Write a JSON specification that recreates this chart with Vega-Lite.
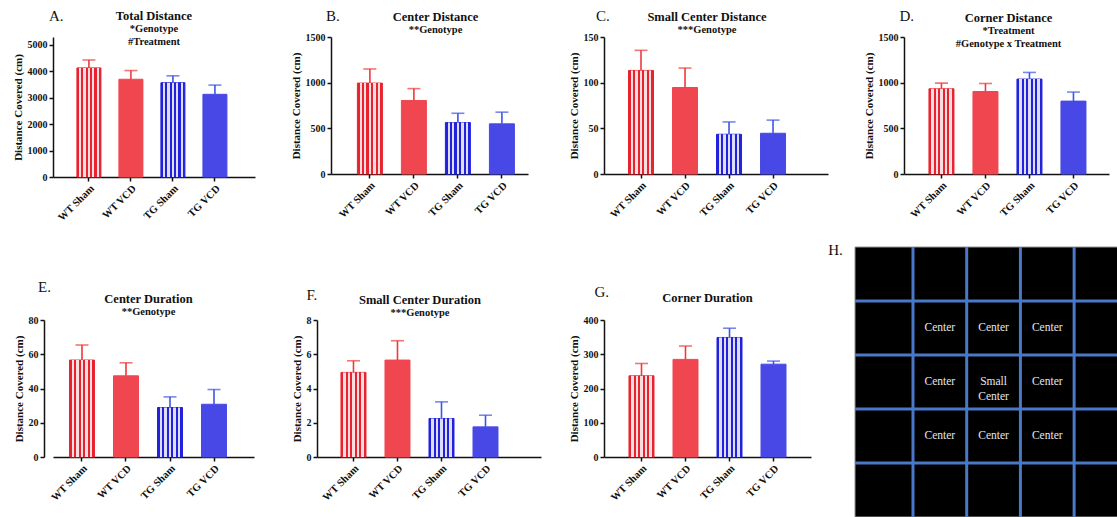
{
"$schema": "https://vega.github.io/schema/vega-lite/v6.json",
"background": "white",
"padding": {"left": 12, "top": 9, "right": 0, "bottom": 0},
"datasets": {
"bars": [
{"panel":"A","group":"WT Sham","mean":4130,"upper":4430},
{"panel":"A","group":"WT VCD","mean":3700,"upper":4030},
{"panel":"A","group":"TG Sham","mean":3570,"upper":3830},
{"panel":"A","group":"TG VCD","mean":3130,"upper":3480},
{"panel":"B","group":"WT Sham","mean":995,"upper":1150},
{"panel":"B","group":"WT VCD","mean":805,"upper":935},
{"panel":"B","group":"TG Sham","mean":563,"upper":665},
{"panel":"B","group":"TG VCD","mean":549,"upper":677},
{"panel":"C","group":"WT Sham","mean":113.4,"upper":135.4},
{"panel":"C","group":"WT VCD","mean":94.7,"upper":116},
{"panel":"C","group":"TG Sham","mean":43.5,"upper":57},
{"panel":"C","group":"TG VCD","mean":44.6,"upper":59},
{"panel":"D","group":"WT Sham","mean":933,"upper":995},
{"panel":"D","group":"WT VCD","mean":903,"upper":991},
{"panel":"D","group":"TG Sham","mean":1039,"upper":1112},
{"panel":"D","group":"TG VCD","mean":798,"upper":897},
{"panel":"E","group":"WT Sham","mean":56.6,"upper":65.4},
{"panel":"E","group":"WT VCD","mean":47.4,"upper":55.0},
{"panel":"E","group":"TG Sham","mean":28.9,"upper":35.1},
{"panel":"E","group":"TG VCD","mean":30.8,"upper":39.4},
{"panel":"F","group":"WT Sham","mean":4.94,"upper":5.62},
{"panel":"F","group":"WT VCD","mean":5.66,"upper":6.79},
{"panel":"F","group":"TG Sham","mean":2.25,"upper":3.22},
{"panel":"F","group":"TG VCD","mean":1.76,"upper":2.44},
{"panel":"G","group":"WT Sham","mean":237,"upper":273},
{"panel":"G","group":"WT VCD","mean":285,"upper":324},
{"panel":"G","group":"TG Sham","mean":349,"upper":376},
{"panel":"G","group":"TG VCD","mean":271,"upper":280}
],
"hsquare": [{"x": -0.08, "x2": 4.817, "y": 0, "y2": 5}],
"hvlines": [{"x": 1, "y": 0, "y2": 5}, {"x": 2, "y": 0, "y2": 5}, {"x": 3, "y": 0, "y2": 5}, {"x": 4, "y": 0, "y2": 5}],
"hhlines": [{"y": 1, "x": -0.08, "x2": 4.817}, {"y": 2, "x": -0.08, "x2": 4.817}, {"y": 3, "x": -0.08, "x2": 4.817}, {"y": 4, "x": -0.08, "x2": 4.817}],
"hlabels": [
{"cx": 1.5, "cy": 1.5, "label": "Center"},
{"cx": 2.5, "cy": 1.5, "label": "Center"},
{"cx": 3.5, "cy": 1.5, "label": "Center"},
{"cx": 1.5, "cy": 2.5, "label": "Center"},
{"cx": 2.5, "cy": 2.5, "label": "Small\nCenter"},
{"cx": 3.5, "cy": 2.5, "label": "Center"},
{"cx": 1.5, "cy": 3.5, "label": "Center"},
{"cx": 2.5, "cy": 3.5, "label": "Center"},
{"cx": 3.5, "cy": 3.5, "label": "Center"}
]
},
"spacing": 19,
"vconcat": [
{"bounds": "flush", "spacing": 76, "hconcat": [
{"width": 202, "height": 140,
 "title": {"text": "Total Distance", "subtitle": ["*Genotype", "#Treatment"], "offset": -38},
 "data": {"name": "bars"}, "transform": [{"filter": "datum.panel == 'A'"}],
 "encoding": {"x": {"field": "group", "type": "nominal", "sort": ["WT Sham","WT VCD","TG Sham","TG VCD"], "scale": {"paddingInner": 0.4286, "paddingOuter": 0.619, "align": 0.46}, "axis": {"title": null}}},
 "layer": [
  {"mark": {"type": "bar", "strokeWidth": 1}, "encoding": {"y": {"field": "mean", "type": "quantitative", "scale": {"domain": [0, 5300], "nice": false}, "axis": {"values": [0,1000,2000,3000,4000,5000], "format": "d", "title": "Distance Covered (cm)"}}, "fill": {"field": "group", "type": "nominal", "scale": {"domain": ["WT Sham","WT VCD","TG Sham","TG VCD"], "range": ["#e8232f","#ef4650","#2222dd","#4848e6"]}, "legend": null}, "stroke": {"field": "group", "type": "nominal", "scale": {"domain": ["WT Sham","WT VCD","TG Sham","TG VCD"], "range": ["#e8232f","#ef4650","#2222dd","#4848e6"]}, "legend": null}}},
  {"transform": [{"filter": "indexof(datum.group, 'Sham') >= 0"}], "mark": {"type": "bar", "strokeWidth": 0, "fill": {"gradient": "linear", "x1": 0, "y1": 0, "x2": 1, "y2": 0, "stops": [{"offset": 0, "color": "rgba(255,255,255,0)"},{"offset": 0.0909, "color": "rgba(255,255,255,0)"},{"offset": 0.0909, "color": "rgba(255,255,255,0.85)"},{"offset": 0.1818, "color": "rgba(255,255,255,0.85)"},{"offset": 0.1818, "color": "rgba(255,255,255,0)"},{"offset": 0.2727, "color": "rgba(255,255,255,0)"},{"offset": 0.2727, "color": "rgba(255,255,255,0.85)"},{"offset": 0.3636, "color": "rgba(255,255,255,0.85)"},{"offset": 0.3636, "color": "rgba(255,255,255,0)"},{"offset": 0.4545, "color": "rgba(255,255,255,0)"},{"offset": 0.4545, "color": "rgba(255,255,255,0.85)"},{"offset": 0.5455, "color": "rgba(255,255,255,0.85)"},{"offset": 0.5455, "color": "rgba(255,255,255,0)"},{"offset": 0.6364, "color": "rgba(255,255,255,0)"},{"offset": 0.6364, "color": "rgba(255,255,255,0.85)"},{"offset": 0.7273, "color": "rgba(255,255,255,0.85)"},{"offset": 0.7273, "color": "rgba(255,255,255,0)"},{"offset": 0.8182, "color": "rgba(255,255,255,0)"},{"offset": 0.8182, "color": "rgba(255,255,255,0.85)"},{"offset": 0.9091, "color": "rgba(255,255,255,0.85)"},{"offset": 0.9091, "color": "rgba(255,255,255,0)"},{"offset": 1, "color": "rgba(255,255,255,0)"}]}}, "encoding": {"y": {"field": "mean", "type": "quantitative", "axis": {"values": [0,1000,2000,3000,4000,5000], "format": "d", "title": "Distance Covered (cm)"}}}},
  {"mark": {"type": "rule", "strokeWidth": 1.6}, "encoding": {"y": {"field": "mean", "type": "quantitative", "axis": {"values": [0,1000,2000,3000,4000,5000], "format": "d", "title": "Distance Covered (cm)"}}, "y2": {"field": "upper"}, "color": {"field": "group", "type": "nominal", "scale": {"domain": ["WT Sham","WT VCD","TG Sham","TG VCD"], "range": ["#ee3a3a","#ee3a3a","#3d55e6","#3d55e6"]}, "legend": null}}},
  {"mark": {"type": "tick", "thickness": 1.6, "size": 13}, "encoding": {"y": {"field": "upper", "type": "quantitative", "axis": {"values": [0,1000,2000,3000,4000,5000], "format": "d", "title": "Distance Covered (cm)"}}, "color": {"field": "group", "type": "nominal", "scale": {"domain": ["WT Sham","WT VCD","TG Sham","TG VCD"], "range": ["#ee3a3a","#ee3a3a","#3d55e6","#3d55e6"]}, "legend": null}}},
  {"data": {"values": [{"letter": "A.", "panel": "A"}]}, "mark": {"type": "text", "align": "left", "baseline": "alphabetic", "font": "Liberation Serif", "fontSize": 15, "color": "#111", "dx": -40, "dy": -16}, "encoding": {"x": {"datum": "WT Sham"}, "y": {"datum": 5300, "axis": {"values": [0,1000,2000,3000,4000,5000], "format": "d", "title": "Distance Covered (cm)"}}, "text": {"field": "letter"}}}
 ]},
{"width": 197, "height": 137,
 "title": {"text": "Center Distance", "subtitle": ["**Genotype"], "offset": -26, "dx": 6},
 "data": {"name": "bars"}, "transform": [{"filter": "datum.panel == 'B'"}],
 "encoding": {"x": {"field": "group", "type": "nominal", "sort": ["WT Sham","WT VCD","TG Sham","TG VCD"], "scale": {"paddingInner": 0.432, "paddingOuter": 0.4545, "align": 0.66}, "axis": {"title": null}}},
 "layer": [
  {"mark": {"type": "bar", "strokeWidth": 1}, "encoding": {"y": {"field": "mean", "type": "quantitative", "scale": {"domain": [0, 1500], "nice": false}, "axis": {"values": [0,500,1000,1500], "format": "d", "title": "Distance Covered (cm)"}}, "fill": {"field": "group", "type": "nominal", "scale": {"domain": ["WT Sham","WT VCD","TG Sham","TG VCD"], "range": ["#e8232f","#ef4650","#2222dd","#4848e6"]}, "legend": null}, "stroke": {"field": "group", "type": "nominal", "scale": {"domain": ["WT Sham","WT VCD","TG Sham","TG VCD"], "range": ["#e8232f","#ef4650","#2222dd","#4848e6"]}, "legend": null}}},
  {"transform": [{"filter": "indexof(datum.group, 'Sham') >= 0"}], "mark": {"type": "bar", "strokeWidth": 0, "fill": {"gradient": "linear", "x1": 0, "y1": 0, "x2": 1, "y2": 0, "stops": [{"offset": 0, "color": "rgba(255,255,255,0)"},{"offset": 0.0909, "color": "rgba(255,255,255,0)"},{"offset": 0.0909, "color": "rgba(255,255,255,0.85)"},{"offset": 0.1818, "color": "rgba(255,255,255,0.85)"},{"offset": 0.1818, "color": "rgba(255,255,255,0)"},{"offset": 0.2727, "color": "rgba(255,255,255,0)"},{"offset": 0.2727, "color": "rgba(255,255,255,0.85)"},{"offset": 0.3636, "color": "rgba(255,255,255,0.85)"},{"offset": 0.3636, "color": "rgba(255,255,255,0)"},{"offset": 0.4545, "color": "rgba(255,255,255,0)"},{"offset": 0.4545, "color": "rgba(255,255,255,0.85)"},{"offset": 0.5455, "color": "rgba(255,255,255,0.85)"},{"offset": 0.5455, "color": "rgba(255,255,255,0)"},{"offset": 0.6364, "color": "rgba(255,255,255,0)"},{"offset": 0.6364, "color": "rgba(255,255,255,0.85)"},{"offset": 0.7273, "color": "rgba(255,255,255,0.85)"},{"offset": 0.7273, "color": "rgba(255,255,255,0)"},{"offset": 0.8182, "color": "rgba(255,255,255,0)"},{"offset": 0.8182, "color": "rgba(255,255,255,0.85)"},{"offset": 0.9091, "color": "rgba(255,255,255,0.85)"},{"offset": 0.9091, "color": "rgba(255,255,255,0)"},{"offset": 1, "color": "rgba(255,255,255,0)"}]}}, "encoding": {"y": {"field": "mean", "type": "quantitative", "axis": {"values": [0,500,1000,1500], "format": "d", "title": "Distance Covered (cm)"}}}},
  {"mark": {"type": "rule", "strokeWidth": 1.6}, "encoding": {"y": {"field": "mean", "type": "quantitative", "axis": {"values": [0,500,1000,1500], "format": "d", "title": "Distance Covered (cm)"}}, "y2": {"field": "upper"}, "color": {"field": "group", "type": "nominal", "scale": {"domain": ["WT Sham","WT VCD","TG Sham","TG VCD"], "range": ["#ee3a3a","#ee3a3a","#3d55e6","#3d55e6"]}, "legend": null}}},
  {"mark": {"type": "tick", "thickness": 1.6, "size": 13}, "encoding": {"y": {"field": "upper", "type": "quantitative", "axis": {"values": [0,500,1000,1500], "format": "d", "title": "Distance Covered (cm)"}}, "color": {"field": "group", "type": "nominal", "scale": {"domain": ["WT Sham","WT VCD","TG Sham","TG VCD"], "range": ["#ee3a3a","#ee3a3a","#3d55e6","#3d55e6"]}, "legend": null}}},
  {"data": {"values": [{"letter": "B.", "panel": "B"}]}, "mark": {"type": "text", "align": "left", "baseline": "alphabetic", "font": "Liberation Serif", "fontSize": 15, "color": "#111", "dx": -44, "dy": -16}, "encoding": {"x": {"datum": "WT Sham"}, "y": {"datum": 1500, "axis": {"values": [0,500,1000,1500], "format": "d", "title": "Distance Covered (cm)"}}, "text": {"field": "letter"}}}
 ]},
{"width": 224, "height": 137,
 "title": {"text": "Small Center Distance", "subtitle": ["***Genotype"], "offset": -26, "dx": -9},
 "data": {"name": "bars"}, "transform": [{"filter": "datum.panel == 'C'"}],
 "encoding": {"x": {"field": "group", "type": "nominal", "sort": ["WT Sham","WT VCD","TG Sham","TG VCD"], "scale": {"paddingInner": 0.432, "paddingOuter": 0.761, "align": 0.366}, "axis": {"title": null}}},
 "layer": [
  {"mark": {"type": "bar", "strokeWidth": 1}, "encoding": {"y": {"field": "mean", "type": "quantitative", "scale": {"domain": [0, 150], "nice": false}, "axis": {"values": [0,50,100,150], "format": "d", "title": "Distance Covered (cm)"}}, "fill": {"field": "group", "type": "nominal", "scale": {"domain": ["WT Sham","WT VCD","TG Sham","TG VCD"], "range": ["#e8232f","#ef4650","#2222dd","#4848e6"]}, "legend": null}, "stroke": {"field": "group", "type": "nominal", "scale": {"domain": ["WT Sham","WT VCD","TG Sham","TG VCD"], "range": ["#e8232f","#ef4650","#2222dd","#4848e6"]}, "legend": null}}},
  {"transform": [{"filter": "indexof(datum.group, 'Sham') >= 0"}], "mark": {"type": "bar", "strokeWidth": 0, "fill": {"gradient": "linear", "x1": 0, "y1": 0, "x2": 1, "y2": 0, "stops": [{"offset": 0, "color": "rgba(255,255,255,0)"},{"offset": 0.0909, "color": "rgba(255,255,255,0)"},{"offset": 0.0909, "color": "rgba(255,255,255,0.85)"},{"offset": 0.1818, "color": "rgba(255,255,255,0.85)"},{"offset": 0.1818, "color": "rgba(255,255,255,0)"},{"offset": 0.2727, "color": "rgba(255,255,255,0)"},{"offset": 0.2727, "color": "rgba(255,255,255,0.85)"},{"offset": 0.3636, "color": "rgba(255,255,255,0.85)"},{"offset": 0.3636, "color": "rgba(255,255,255,0)"},{"offset": 0.4545, "color": "rgba(255,255,255,0)"},{"offset": 0.4545, "color": "rgba(255,255,255,0.85)"},{"offset": 0.5455, "color": "rgba(255,255,255,0.85)"},{"offset": 0.5455, "color": "rgba(255,255,255,0)"},{"offset": 0.6364, "color": "rgba(255,255,255,0)"},{"offset": 0.6364, "color": "rgba(255,255,255,0.85)"},{"offset": 0.7273, "color": "rgba(255,255,255,0.85)"},{"offset": 0.7273, "color": "rgba(255,255,255,0)"},{"offset": 0.8182, "color": "rgba(255,255,255,0)"},{"offset": 0.8182, "color": "rgba(255,255,255,0.85)"},{"offset": 0.9091, "color": "rgba(255,255,255,0.85)"},{"offset": 0.9091, "color": "rgba(255,255,255,0)"},{"offset": 1, "color": "rgba(255,255,255,0)"}]}}, "encoding": {"y": {"field": "mean", "type": "quantitative", "axis": {"values": [0,50,100,150], "format": "d", "title": "Distance Covered (cm)"}}}},
  {"mark": {"type": "rule", "strokeWidth": 1.6}, "encoding": {"y": {"field": "mean", "type": "quantitative", "axis": {"values": [0,50,100,150], "format": "d", "title": "Distance Covered (cm)"}}, "y2": {"field": "upper"}, "color": {"field": "group", "type": "nominal", "scale": {"domain": ["WT Sham","WT VCD","TG Sham","TG VCD"], "range": ["#ee3a3a","#ee3a3a","#3d55e6","#3d55e6"]}, "legend": null}}},
  {"mark": {"type": "tick", "thickness": 1.6, "size": 13}, "encoding": {"y": {"field": "upper", "type": "quantitative", "axis": {"values": [0,50,100,150], "format": "d", "title": "Distance Covered (cm)"}}, "color": {"field": "group", "type": "nominal", "scale": {"domain": ["WT Sham","WT VCD","TG Sham","TG VCD"], "range": ["#ee3a3a","#ee3a3a","#3d55e6","#3d55e6"]}, "legend": null}}},
  {"data": {"values": [{"letter": "C.", "panel": "C"}]}, "mark": {"type": "text", "align": "left", "baseline": "alphabetic", "font": "Liberation Serif", "fontSize": 15, "color": "#111", "dx": -45, "dy": -16}, "encoding": {"x": {"datum": "WT Sham"}, "y": {"datum": 150, "axis": {"values": [0,50,100,150], "format": "d", "title": "Distance Covered (cm)"}}, "text": {"field": "letter"}}}
 ]},
{"width": 205, "height": 137,
 "title": {"text": "Corner Distance", "subtitle": ["*Treatment", "#Genotype x Treatment"], "offset": -40, "dx": 2},
 "data": {"name": "bars"}, "transform": [{"filter": "datum.panel == 'D'"}],
 "encoding": {"x": {"field": "group", "type": "nominal", "sort": ["WT Sham","WT VCD","TG Sham","TG VCD"], "scale": {"paddingInner": 0.432, "paddingOuter": 0.5455, "align": 0.52}, "axis": {"title": null}}},
 "layer": [
  {"mark": {"type": "bar", "strokeWidth": 1}, "encoding": {"y": {"field": "mean", "type": "quantitative", "scale": {"domain": [0, 1500], "nice": false}, "axis": {"values": [0,500,1000,1500], "format": "d", "title": "Distance Covered (cm)"}}, "fill": {"field": "group", "type": "nominal", "scale": {"domain": ["WT Sham","WT VCD","TG Sham","TG VCD"], "range": ["#e8232f","#ef4650","#2222dd","#4848e6"]}, "legend": null}, "stroke": {"field": "group", "type": "nominal", "scale": {"domain": ["WT Sham","WT VCD","TG Sham","TG VCD"], "range": ["#e8232f","#ef4650","#2222dd","#4848e6"]}, "legend": null}}},
  {"transform": [{"filter": "indexof(datum.group, 'Sham') >= 0"}], "mark": {"type": "bar", "strokeWidth": 0, "fill": {"gradient": "linear", "x1": 0, "y1": 0, "x2": 1, "y2": 0, "stops": [{"offset": 0, "color": "rgba(255,255,255,0)"},{"offset": 0.0909, "color": "rgba(255,255,255,0)"},{"offset": 0.0909, "color": "rgba(255,255,255,0.85)"},{"offset": 0.1818, "color": "rgba(255,255,255,0.85)"},{"offset": 0.1818, "color": "rgba(255,255,255,0)"},{"offset": 0.2727, "color": "rgba(255,255,255,0)"},{"offset": 0.2727, "color": "rgba(255,255,255,0.85)"},{"offset": 0.3636, "color": "rgba(255,255,255,0.85)"},{"offset": 0.3636, "color": "rgba(255,255,255,0)"},{"offset": 0.4545, "color": "rgba(255,255,255,0)"},{"offset": 0.4545, "color": "rgba(255,255,255,0.85)"},{"offset": 0.5455, "color": "rgba(255,255,255,0.85)"},{"offset": 0.5455, "color": "rgba(255,255,255,0)"},{"offset": 0.6364, "color": "rgba(255,255,255,0)"},{"offset": 0.6364, "color": "rgba(255,255,255,0.85)"},{"offset": 0.7273, "color": "rgba(255,255,255,0.85)"},{"offset": 0.7273, "color": "rgba(255,255,255,0)"},{"offset": 0.8182, "color": "rgba(255,255,255,0)"},{"offset": 0.8182, "color": "rgba(255,255,255,0.85)"},{"offset": 0.9091, "color": "rgba(255,255,255,0.85)"},{"offset": 0.9091, "color": "rgba(255,255,255,0)"},{"offset": 1, "color": "rgba(255,255,255,0)"}]}}, "encoding": {"y": {"field": "mean", "type": "quantitative", "axis": {"values": [0,500,1000,1500], "format": "d", "title": "Distance Covered (cm)"}}}},
  {"mark": {"type": "rule", "strokeWidth": 1.6}, "encoding": {"y": {"field": "mean", "type": "quantitative", "axis": {"values": [0,500,1000,1500], "format": "d", "title": "Distance Covered (cm)"}}, "y2": {"field": "upper"}, "color": {"field": "group", "type": "nominal", "scale": {"domain": ["WT Sham","WT VCD","TG Sham","TG VCD"], "range": ["#ee3a3a","#ee3a3a","#3d55e6","#3d55e6"]}, "legend": null}}},
  {"mark": {"type": "tick", "thickness": 1.6, "size": 13}, "encoding": {"y": {"field": "upper", "type": "quantitative", "axis": {"values": [0,500,1000,1500], "format": "d", "title": "Distance Covered (cm)"}}, "color": {"field": "group", "type": "nominal", "scale": {"domain": ["WT Sham","WT VCD","TG Sham","TG VCD"], "range": ["#ee3a3a","#ee3a3a","#3d55e6","#3d55e6"]}, "legend": null}}},
  {"data": {"values": [{"letter": "D.", "panel": "D"}]}, "mark": {"type": "text", "align": "left", "baseline": "alphabetic", "font": "Liberation Serif", "fontSize": 15, "color": "#111", "dx": -42, "dy": -16}, "encoding": {"x": {"datum": "WT Sham"}, "y": {"datum": 1500, "axis": {"values": [0,500,1000,1500], "format": "d", "title": "Distance Covered (cm)"}}, "text": {"field": "letter"}}}
 ]}
]},
{"bounds": "flush", "spacing": 63, "hconcat": [
{"width": 201, "height": 137,
 "title": {"text": "Center Duration", "subtitle": ["**Genotype"], "offset": -37, "dx": -5},
 "data": {"name": "bars"}, "transform": [{"filter": "datum.panel == 'E'"}],
 "encoding": {"x": {"field": "group", "type": "nominal", "sort": ["WT Sham","WT VCD","TG Sham","TG VCD"], "scale": {"paddingInner": 0.432, "paddingOuter": 0.5, "align": 0.375}, "axis": {"title": null}}},
 "layer": [
  {"mark": {"type": "bar", "strokeWidth": 1}, "encoding": {"y": {"field": "mean", "type": "quantitative", "scale": {"domain": [0, 80], "nice": false}, "axis": {"values": [0,20,40,60,80], "format": "d", "offset": 9, "title": "Distance Covered (cm)"}}, "fill": {"field": "group", "type": "nominal", "scale": {"domain": ["WT Sham","WT VCD","TG Sham","TG VCD"], "range": ["#e8232f","#ef4650","#2222dd","#4848e6"]}, "legend": null}, "stroke": {"field": "group", "type": "nominal", "scale": {"domain": ["WT Sham","WT VCD","TG Sham","TG VCD"], "range": ["#e8232f","#ef4650","#2222dd","#4848e6"]}, "legend": null}}},
  {"transform": [{"filter": "indexof(datum.group, 'Sham') >= 0"}], "mark": {"type": "bar", "strokeWidth": 0, "fill": {"gradient": "linear", "x1": 0, "y1": 0, "x2": 1, "y2": 0, "stops": [{"offset": 0, "color": "rgba(255,255,255,0)"},{"offset": 0.0909, "color": "rgba(255,255,255,0)"},{"offset": 0.0909, "color": "rgba(255,255,255,0.85)"},{"offset": 0.1818, "color": "rgba(255,255,255,0.85)"},{"offset": 0.1818, "color": "rgba(255,255,255,0)"},{"offset": 0.2727, "color": "rgba(255,255,255,0)"},{"offset": 0.2727, "color": "rgba(255,255,255,0.85)"},{"offset": 0.3636, "color": "rgba(255,255,255,0.85)"},{"offset": 0.3636, "color": "rgba(255,255,255,0)"},{"offset": 0.4545, "color": "rgba(255,255,255,0)"},{"offset": 0.4545, "color": "rgba(255,255,255,0.85)"},{"offset": 0.5455, "color": "rgba(255,255,255,0.85)"},{"offset": 0.5455, "color": "rgba(255,255,255,0)"},{"offset": 0.6364, "color": "rgba(255,255,255,0)"},{"offset": 0.6364, "color": "rgba(255,255,255,0.85)"},{"offset": 0.7273, "color": "rgba(255,255,255,0.85)"},{"offset": 0.7273, "color": "rgba(255,255,255,0)"},{"offset": 0.8182, "color": "rgba(255,255,255,0)"},{"offset": 0.8182, "color": "rgba(255,255,255,0.85)"},{"offset": 0.9091, "color": "rgba(255,255,255,0.85)"},{"offset": 0.9091, "color": "rgba(255,255,255,0)"},{"offset": 1, "color": "rgba(255,255,255,0)"}]}}, "encoding": {"y": {"field": "mean", "type": "quantitative", "axis": {"values": [0,20,40,60,80], "format": "d", "offset": 9, "title": "Distance Covered (cm)"}}}},
  {"mark": {"type": "rule", "strokeWidth": 1.6}, "encoding": {"y": {"field": "mean", "type": "quantitative", "axis": {"values": [0,20,40,60,80], "format": "d", "offset": 9, "title": "Distance Covered (cm)"}}, "y2": {"field": "upper"}, "color": {"field": "group", "type": "nominal", "scale": {"domain": ["WT Sham","WT VCD","TG Sham","TG VCD"], "range": ["#ee3a3a","#ee3a3a","#3d55e6","#3d55e6"]}, "legend": null}}},
  {"mark": {"type": "tick", "thickness": 1.6, "size": 13}, "encoding": {"y": {"field": "upper", "type": "quantitative", "axis": {"values": [0,20,40,60,80], "format": "d", "offset": 9, "title": "Distance Covered (cm)"}}, "color": {"field": "group", "type": "nominal", "scale": {"domain": ["WT Sham","WT VCD","TG Sham","TG VCD"], "range": ["#ee3a3a","#ee3a3a","#3d55e6","#3d55e6"]}, "legend": null}}},
  {"data": {"values": [{"letter": "E.", "panel": "E"}]}, "mark": {"type": "text", "align": "left", "baseline": "alphabetic", "font": "Liberation Serif", "fontSize": 15, "color": "#111", "dx": -44, "dy": -28}, "encoding": {"x": {"datum": "WT Sham"}, "y": {"datum": 80, "axis": {"values": [0,20,40,60,80], "format": "d", "offset": 9, "title": "Distance Covered (cm)"}}, "text": {"field": "letter"}}}
 ]},
{"width": 224, "height": 137,
 "title": {"text": "Small Center Duration", "subtitle": ["***Genotype"], "offset": -30, "dx": -9},
 "data": {"name": "bars"}, "transform": [{"filter": "datum.panel == 'F'"}],
 "encoding": {"x": {"field": "group", "type": "nominal", "sort": ["WT Sham","WT VCD","TG Sham","TG VCD"], "scale": {"paddingInner": 0.432, "paddingOuter": 0.761, "align": 0.358}, "axis": {"title": null}}},
 "layer": [
  {"mark": {"type": "bar", "strokeWidth": 1}, "encoding": {"y": {"field": "mean", "type": "quantitative", "scale": {"domain": [0, 8], "nice": false}, "axis": {"values": [0,2,4,6,8], "format": "d", "title": "Distance Covered (cm)"}}, "fill": {"field": "group", "type": "nominal", "scale": {"domain": ["WT Sham","WT VCD","TG Sham","TG VCD"], "range": ["#e8232f","#ef4650","#2222dd","#4848e6"]}, "legend": null}, "stroke": {"field": "group", "type": "nominal", "scale": {"domain": ["WT Sham","WT VCD","TG Sham","TG VCD"], "range": ["#e8232f","#ef4650","#2222dd","#4848e6"]}, "legend": null}}},
  {"transform": [{"filter": "indexof(datum.group, 'Sham') >= 0"}], "mark": {"type": "bar", "strokeWidth": 0, "fill": {"gradient": "linear", "x1": 0, "y1": 0, "x2": 1, "y2": 0, "stops": [{"offset": 0, "color": "rgba(255,255,255,0)"},{"offset": 0.0909, "color": "rgba(255,255,255,0)"},{"offset": 0.0909, "color": "rgba(255,255,255,0.85)"},{"offset": 0.1818, "color": "rgba(255,255,255,0.85)"},{"offset": 0.1818, "color": "rgba(255,255,255,0)"},{"offset": 0.2727, "color": "rgba(255,255,255,0)"},{"offset": 0.2727, "color": "rgba(255,255,255,0.85)"},{"offset": 0.3636, "color": "rgba(255,255,255,0.85)"},{"offset": 0.3636, "color": "rgba(255,255,255,0)"},{"offset": 0.4545, "color": "rgba(255,255,255,0)"},{"offset": 0.4545, "color": "rgba(255,255,255,0.85)"},{"offset": 0.5455, "color": "rgba(255,255,255,0.85)"},{"offset": 0.5455, "color": "rgba(255,255,255,0)"},{"offset": 0.6364, "color": "rgba(255,255,255,0)"},{"offset": 0.6364, "color": "rgba(255,255,255,0.85)"},{"offset": 0.7273, "color": "rgba(255,255,255,0.85)"},{"offset": 0.7273, "color": "rgba(255,255,255,0)"},{"offset": 0.8182, "color": "rgba(255,255,255,0)"},{"offset": 0.8182, "color": "rgba(255,255,255,0.85)"},{"offset": 0.9091, "color": "rgba(255,255,255,0.85)"},{"offset": 0.9091, "color": "rgba(255,255,255,0)"},{"offset": 1, "color": "rgba(255,255,255,0)"}]}}, "encoding": {"y": {"field": "mean", "type": "quantitative", "axis": {"values": [0,2,4,6,8], "format": "d", "title": "Distance Covered (cm)"}}}},
  {"mark": {"type": "rule", "strokeWidth": 1.6}, "encoding": {"y": {"field": "mean", "type": "quantitative", "axis": {"values": [0,2,4,6,8], "format": "d", "title": "Distance Covered (cm)"}}, "y2": {"field": "upper"}, "color": {"field": "group", "type": "nominal", "scale": {"domain": ["WT Sham","WT VCD","TG Sham","TG VCD"], "range": ["#ee3a3a","#ee3a3a","#3d55e6","#3d55e6"]}, "legend": null}}},
  {"mark": {"type": "tick", "thickness": 1.6, "size": 13}, "encoding": {"y": {"field": "upper", "type": "quantitative", "axis": {"values": [0,2,4,6,8], "format": "d", "title": "Distance Covered (cm)"}}, "color": {"field": "group", "type": "nominal", "scale": {"domain": ["WT Sham","WT VCD","TG Sham","TG VCD"], "range": ["#ee3a3a","#ee3a3a","#3d55e6","#3d55e6"]}, "legend": null}}},
  {"data": {"values": [{"letter": "F.", "panel": "F"}]}, "mark": {"type": "text", "align": "left", "baseline": "alphabetic", "font": "Liberation Serif", "fontSize": 15, "color": "#111", "dx": -47, "dy": -20}, "encoding": {"x": {"datum": "WT Sham"}, "y": {"datum": 8, "axis": {"values": [0,2,4,6,8], "format": "d", "title": "Distance Covered (cm)"}}, "text": {"field": "letter"}}}
 ]},
{"width": 207, "height": 137,
 "title": {"text": "Corner Duration", "offset": -19},
 "data": {"name": "bars"}, "transform": [{"filter": "datum.panel == 'G'"}],
 "encoding": {"x": {"field": "group", "type": "nominal", "sort": ["WT Sham","WT VCD","TG Sham","TG VCD"], "scale": {"paddingInner": 0.432, "paddingOuter": 0.568, "align": 0.5}, "axis": {"title": null}}},
 "layer": [
  {"mark": {"type": "bar", "strokeWidth": 1}, "encoding": {"y": {"field": "mean", "type": "quantitative", "scale": {"domain": [0, 400], "nice": false}, "axis": {"values": [0,100,200,300,400], "format": "d", "title": "Distance Covered (cm)"}}, "fill": {"field": "group", "type": "nominal", "scale": {"domain": ["WT Sham","WT VCD","TG Sham","TG VCD"], "range": ["#e8232f","#ef4650","#2222dd","#4848e6"]}, "legend": null}, "stroke": {"field": "group", "type": "nominal", "scale": {"domain": ["WT Sham","WT VCD","TG Sham","TG VCD"], "range": ["#e8232f","#ef4650","#2222dd","#4848e6"]}, "legend": null}}},
  {"transform": [{"filter": "indexof(datum.group, 'Sham') >= 0"}], "mark": {"type": "bar", "strokeWidth": 0, "fill": {"gradient": "linear", "x1": 0, "y1": 0, "x2": 1, "y2": 0, "stops": [{"offset": 0, "color": "rgba(255,255,255,0)"},{"offset": 0.0909, "color": "rgba(255,255,255,0)"},{"offset": 0.0909, "color": "rgba(255,255,255,0.85)"},{"offset": 0.1818, "color": "rgba(255,255,255,0.85)"},{"offset": 0.1818, "color": "rgba(255,255,255,0)"},{"offset": 0.2727, "color": "rgba(255,255,255,0)"},{"offset": 0.2727, "color": "rgba(255,255,255,0.85)"},{"offset": 0.3636, "color": "rgba(255,255,255,0.85)"},{"offset": 0.3636, "color": "rgba(255,255,255,0)"},{"offset": 0.4545, "color": "rgba(255,255,255,0)"},{"offset": 0.4545, "color": "rgba(255,255,255,0.85)"},{"offset": 0.5455, "color": "rgba(255,255,255,0.85)"},{"offset": 0.5455, "color": "rgba(255,255,255,0)"},{"offset": 0.6364, "color": "rgba(255,255,255,0)"},{"offset": 0.6364, "color": "rgba(255,255,255,0.85)"},{"offset": 0.7273, "color": "rgba(255,255,255,0.85)"},{"offset": 0.7273, "color": "rgba(255,255,255,0)"},{"offset": 0.8182, "color": "rgba(255,255,255,0)"},{"offset": 0.8182, "color": "rgba(255,255,255,0.85)"},{"offset": 0.9091, "color": "rgba(255,255,255,0.85)"},{"offset": 0.9091, "color": "rgba(255,255,255,0)"},{"offset": 1, "color": "rgba(255,255,255,0)"}]}}, "encoding": {"y": {"field": "mean", "type": "quantitative", "axis": {"values": [0,100,200,300,400], "format": "d", "title": "Distance Covered (cm)"}}}},
  {"mark": {"type": "rule", "strokeWidth": 1.6}, "encoding": {"y": {"field": "mean", "type": "quantitative", "axis": {"values": [0,100,200,300,400], "format": "d", "title": "Distance Covered (cm)"}}, "y2": {"field": "upper"}, "color": {"field": "group", "type": "nominal", "scale": {"domain": ["WT Sham","WT VCD","TG Sham","TG VCD"], "range": ["#ee3a3a","#ee3a3a","#3d55e6","#3d55e6"]}, "legend": null}}},
  {"mark": {"type": "tick", "thickness": 1.6, "size": 13}, "encoding": {"y": {"field": "upper", "type": "quantitative", "axis": {"values": [0,100,200,300,400], "format": "d", "title": "Distance Covered (cm)"}}, "color": {"field": "group", "type": "nominal", "scale": {"domain": ["WT Sham","WT VCD","TG Sham","TG VCD"], "range": ["#ee3a3a","#ee3a3a","#3d55e6","#3d55e6"]}, "legend": null}}},
  {"data": {"values": [{"letter": "G.", "panel": "G"}]}, "mark": {"type": "text", "align": "left", "baseline": "alphabetic", "font": "Liberation Serif", "fontSize": 15, "color": "#111", "dx": -47, "dy": -23}, "encoding": {"x": {"datum": "WT Sham"}, "y": {"datum": 400, "axis": {"values": [0,100,200,300,400], "format": "d", "title": "Distance Covered (cm)"}}, "text": {"field": "letter"}}}
 ]},
{"width": 244, "height": 197,
 "layer": [
  {"data": {"name": "hsquare"}, "mark": {"type": "rect", "fill": "#000000", "stroke": "#9a9a9a", "strokeWidth": 1}, "encoding": {"x": {"field": "x", "type": "quantitative", "scale": {"domain": [0.274, 4.817], "nice": false, "zero": false}, "axis": null}, "x2": {"field": "x2"}, "y": {"field": "y", "type": "quantitative", "scale": {"domain": [1.352, 5], "reverse": true, "nice": false, "zero": false}, "axis": null}, "y2": {"field": "y2"}}},
  {"data": {"name": "hvlines"}, "mark": {"type": "rule", "color": "#4a78c8", "strokeWidth": 3}, "encoding": {"x": {"field": "x", "type": "quantitative", "axis": null}, "y": {"field": "y", "type": "quantitative", "axis": null}, "y2": {"field": "y2"}}},
  {"data": {"name": "hhlines"}, "mark": {"type": "rule", "color": "#4a78c8", "strokeWidth": 3}, "encoding": {"y": {"field": "y", "type": "quantitative", "axis": null}, "x": {"field": "x", "type": "quantitative", "axis": null}, "x2": {"field": "x2"}}},
  {"data": {"name": "hlabels"}, "mark": {"type": "text", "color": "#e6e6e6", "font": "Liberation Serif", "fontSize": 11.5, "lineBreak": "\n", "lineHeight": 15}, "encoding": {"x": {"field": "cx", "type": "quantitative", "axis": null}, "y": {"field": "cy", "type": "quantitative", "axis": null}, "text": {"field": "label"}}},
  {"data": {"values": [{"letter": "H."}]}, "mark": {"type": "text", "align": "left", "baseline": "alphabetic", "font": "Liberation Serif", "fontSize": 15, "color": "#111", "dx": -31, "dy": 8}, "encoding": {"x": {"datum": 0, "axis": null}, "y": {"datum": 0, "axis": null}, "text": {"field": "letter"}}}
 ]}
]}
],
"config": {
 "view": {"stroke": null},
 "axis": {"labelFont": "Liberation Serif", "labelFontWeight": "bold", "labelFontSize": 10, "labelColor": "#111", "titleFont": "Liberation Serif", "titleFontWeight": "bold", "titleFontSize": 11, "titleColor": "#111", "domainColor": "#111", "domainWidth": 1.5, "tickColor": "#111", "tickWidth": 1.5, "tickSize": 4, "grid": false},
 "axisX": {"labelAngle": -45, "labelPadding": 2, "labelFontSize": 10.5},
 "axisY": {"titlePadding": 4, "labelPadding": 2, "labelOverlap": false},
 "title": {"font": "Liberation Serif", "fontSize": 12.5, "fontWeight": "bold", "color": "#111", "subtitleFont": "Liberation Serif", "subtitleFontSize": 10.5, "subtitleFontWeight": "bold", "subtitleColor": "#111", "subtitlePadding": 1, "subtitleLineHeight": 13, "frame": "group", "anchor": "middle"}
}
}
